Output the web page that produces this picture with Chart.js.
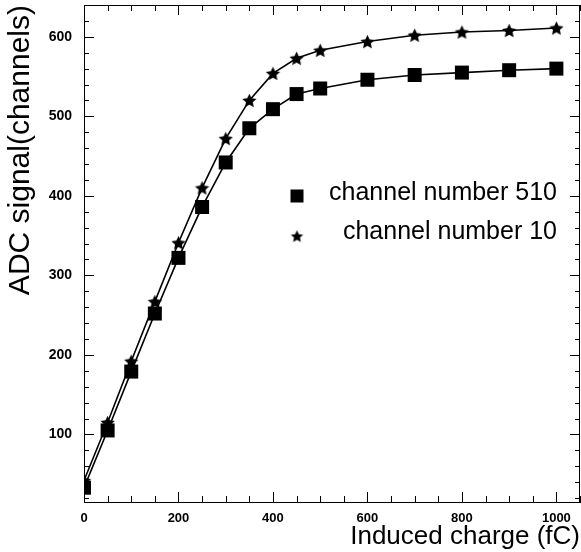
<!DOCTYPE html>
<html>
<head>
<meta charset="utf-8">
<script src="https://cdn.jsdelivr.net/npm/chart.js@4"></script>
<style>
  html, body { margin: 0; padding: 0; background: #fff; }
  canvas { display: block; }
</style>
</head>
<body>
<canvas id="c" width="581" height="552" style="width:581px;height:552px"></canvas>
<script>
// ---- data ----
const charges = [0, 50, 100, 150, 200, 250, 300, 350, 400, 450, 500, 600, 700, 800, 900, 1000];
const ch510 = [33, 105, 179, 252, 322, 386, 442, 485, 509, 528, 535, 546, 552, 555, 558, 560];
const ch10  = [42, 115, 192, 267, 341, 410, 472, 520, 554, 573, 583, 594, 602, 606, 608, 611];
const seriesNames = ['channel number 510', 'channel number 10'];
const xTickLabels = [0, 200, 400, 600, 800, 1000];
const yTickLabels = [100, 200, 300, 400, 500, 600];
const xTitle = 'Induced charge (fC)';
const yTitle = 'ADC signal(channels)';

function makeStar(r) {
  const s = Math.ceil(r * 2) + 2;
  const c = document.createElement('canvas');
  c.width = s; c.height = s;
  const g = c.getContext('2d');
  g.fillStyle = '#000';
  g.beginPath();
  for (let i = 0; i < 10; i++) {
    const rr = i % 2 ? r * 0.48 : r;
    const ang = -Math.PI / 2 + i * Math.PI / 5;
    g.lineTo(s / 2 + rr * Math.cos(ang), s / 2 + rr * Math.sin(ang) + r * 0.1);
  }
  g.closePath();
  g.fill();
  return c;
}
const starImg = makeStar(7.5);
const starLegend = makeStar(6.5);

const FONT = '"Liberation Sans", Arial, sans-serif';

const frameTicks = {
  id: 'frameTicks',
  afterDraw(chart) {
    const { ctx, chartArea: a, scales: { x, y } } = chart;
    ctx.save();
    ctx.strokeStyle = '#000';
    ctx.lineWidth = 1;
    ctx.strokeRect(Math.round(a.left) + 0.5, Math.round(a.top) + 0.5,
                   Math.round(a.right - a.left) - 1, Math.round(a.bottom - a.top));
    ctx.beginPath();
    for (let v = 0; v <= x.max; v += 50) {
      const p = Math.round(x.getPixelForValue(v)) + 0.5;
      const L = v % 200 === 0 ? 10 : 6;
      ctx.moveTo(p, a.bottom); ctx.lineTo(p, a.bottom - L);
      ctx.moveTo(p, a.top); ctx.lineTo(p, a.top + L);
    }
    for (let v = 20; v <= y.max; v += 20) {
      const p = Math.round(y.getPixelForValue(v)) + 0.5;
      const L = v % 100 === 0 ? 10 : 5;
      ctx.moveTo(a.left, p); ctx.lineTo(a.left + L, p);
      ctx.moveTo(a.right, p); ctx.lineTo(a.right - L, p);
    }
    ctx.stroke();

    // legend
    const ds = chart.data.datasets;
    ctx.fillStyle = '#000';
    ctx.font = '25px ' + FONT;
    ctx.textAlign = 'right';
    ctx.textBaseline = 'middle';
    ctx.fillRect(297 - 6.5, 196 - 6.5, 13, 13);
    ctx.fillText(ds[0].label, 557, 193);
    ctx.drawImage(starLegend, 297 - starLegend.width / 2, 236 - starLegend.height / 2);
    ctx.fillText(ds[1].label, 557, 232);
    ctx.restore();
  }
};

new Chart(document.getElementById('c'), {
  type: 'line',
  data: {
    labels: charges,
    datasets: [
      {
        label: seriesNames[0],
        data: charges.map((c, i) => ({ x: c, y: ch510[i] })),
        borderColor: '#000', borderWidth: 1.6,
        pointStyle: 'rect', pointRadius: 9.9, pointBackgroundColor: '#000', pointBorderWidth: 0,
        tension: 0
      },
      {
        label: seriesNames[1],
        data: charges.map((c, i) => ({ x: c, y: ch10[i] })),
        borderColor: '#000', borderWidth: 1.6,
        pointStyle: starImg, pointRadius: 8, pointBackgroundColor: '#000',
        tension: 0
      }
    ]
  },
  options: {
    responsive: false,
    animation: false,
    devicePixelRatio: 1,
    layout: { autoPadding: false, padding: { top: 5, right: 1, left: 0, bottom: 0 } },
    plugins: { legend: { display: false }, tooltip: { enabled: false } },
    scales: {
      x: {
        type: 'linear', min: 0, max: 1050,
        grid: { display: false, drawTicks: false },
        border: { display: true, color: '#000', width: 1 },
        ticks: { color: '#000', font: { family: FONT, size: 13, weight: 'bold' }, padding: 9, maxRotation: 0,
                 callback: v => String(v) },
        title: { display: true, text: xTitle, align: 'end', color: '#000',
                 font: { family: FONT, size: 26 }, padding: { top: 0, bottom: 0 } },
        afterBuildTicks: s => { s.ticks = xTickLabels.map(v => ({ value: v })); },
        afterFit: s => { s.height = 50; s.paddingLeft = 0; s.paddingRight = 0; }
      },
      y: {
        type: 'linear', min: 15, max: 640,
        grid: { display: false, drawTicks: false },
        border: { display: true, color: '#000', width: 1 },
        ticks: { color: '#000', font: { family: FONT, size: 14, weight: 'bold' }, padding: 12,
                 callback: v => String(v) },
        title: { display: true, text: yTitle, align: 'end', color: '#000',
                 font: { family: FONT, size: 30 }, padding: { top: 3, bottom: 0 } },
        afterBuildTicks: s => { s.ticks = yTickLabels.map(v => ({ value: v })); },
        afterFit: s => { s.width = 84; s.paddingTop = 0; s.paddingBottom = 0; }
      }
    }
  },
  plugins: [frameTicks]
});
</script>
</body>
</html>
